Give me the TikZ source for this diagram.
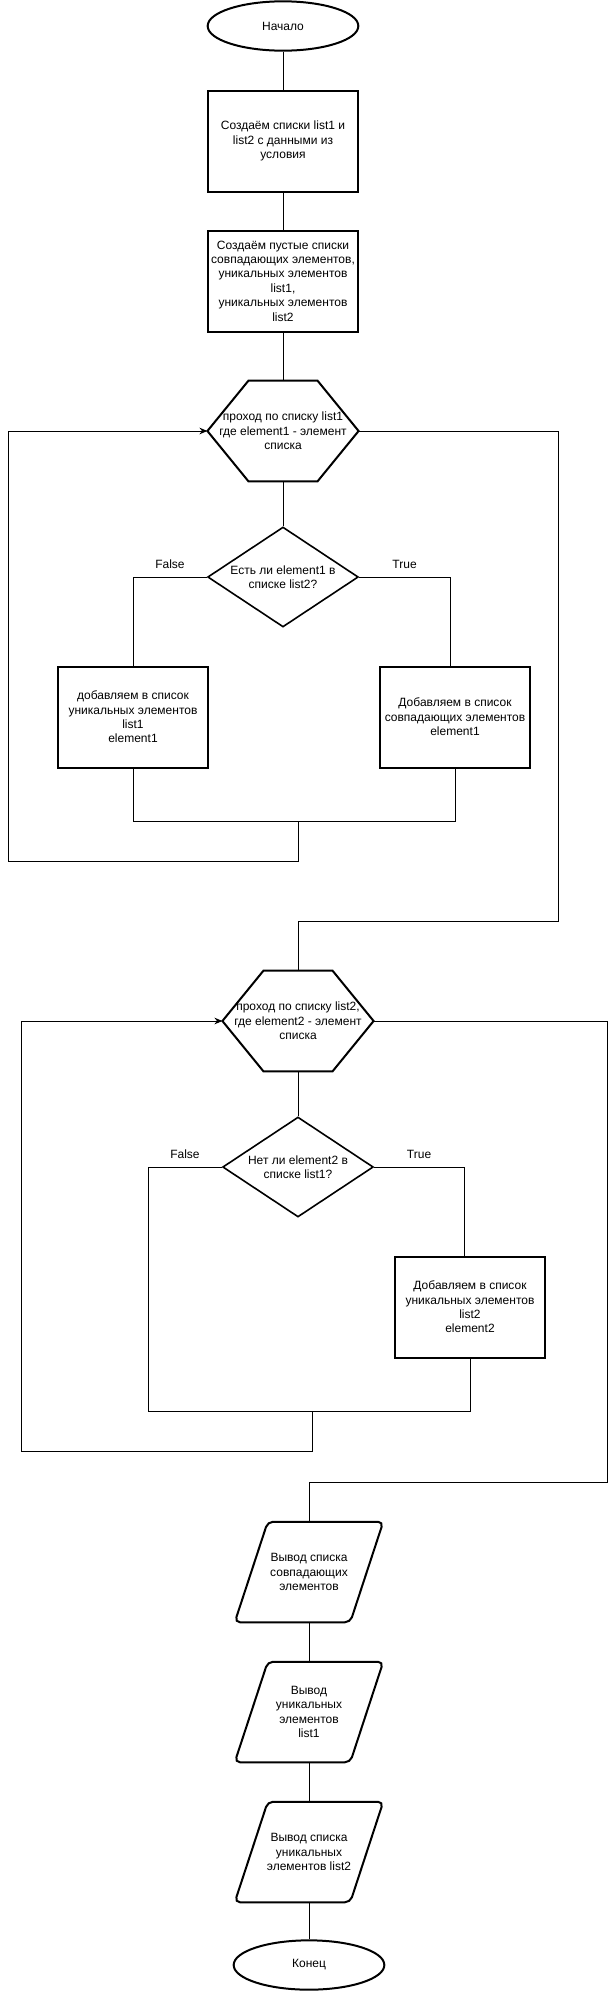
\documentclass[tikz,border=0pt]{standalone}
\usepackage{fontspec}
\setmainfont{Liberation Sans}
\usetikzlibrary{shapes.geometric,arrows.meta}

\tikzset{
  base/.style={font=\fontsize{9pt}{10.8pt}\selectfont, align=center},
  term/.style={base, ellipse, draw, line width=1.5pt, minimum width=113pt, minimum height=37pt},
  proc/.style={base, rectangle, draw, line width=1.5pt, minimum width=113pt, minimum height=75.75pt, inner sep=1pt},
  cond/.style={base, diamond, draw, line width=1.2pt, minimum width=113pt, minimum height=75pt, aspect=1.5, inner sep=0pt},
  hexa/.style={base, rectangle, minimum width=113pt, minimum height=75pt, inner sep=0pt},
  io/.style={base, rectangle, minimum width=111pt, minimum height=75pt, inner sep=0pt},
  outline/.style={line width=1.5pt},
  link/.style={line width=0.75pt},
  loopback/.style={link, -{Stealth[length=6pt,width=5pt]}},
  tag/.style={base, above=5pt, inner sep=1pt}
}

\begin{document}
\begin{tikzpicture}[x=0.75pt,y=-0.75pt]
\useasboundingbox (0,0) rectangle (609,1992);

\node[term] (start) at (283,26) {Начало};
\node[proc] (init1) at (283,141) {Создаём списки list1 и\\list2 с данными из\\условия};
\node[proc] (init2) at (283,281) {Создаём пустые списки\\совпадающих элементов,\\уникальных элементов\\list1,\\уникальных элементов\\list2};
\node[hexa] (loop1) at (283,431) {проход по списку list1\\где element1 - элемент\\списка};
\node[cond] (check1) at (283,577) {Есть ли element1 в\\списке list2?};
\node[proc] (uniq1) at (133,717) {добавляем в список\\уникальных элементов\\list1\\element1};
\node[proc] (common1) at (455,717) {Добавляем в список\\совпадающих элементов\\element1};

\node[hexa] (loop2) at (298,1021) {проход по списку list2,\\где element2 - элемент\\списка};
\node[cond] (check2) at (298,1167) {Нет ли element2 в\\списке list1?};
\node[proc] (uniq2) at (470,1307) {Добавляем в список\\уникальных элементов\\list2\\element2};

\node[io] (outCommon) at (309,1572) {Вывод списка\\совпадающих\\элементов};
\node[io] (outUniq1) at (309,1712) {Вывод\\уникальных\\элементов\\list1};
\node[io] (outUniq2) at (309,1852) {Вывод списка\\уникальных\\элементов list2};
\node[term] (finish) at (309,1965) {Конец};

% hexagons and parallelograms
\draw[outline] (loop1.west) -- ([xshift=30.75pt]loop1.north west) -- ([xshift=-30.75pt]loop1.north east) -- (loop1.east) -- ([xshift=-30.75pt]loop1.south east) -- ([xshift=30.75pt]loop1.south west) -- cycle;
\draw[outline] (loop2.west) -- ([xshift=30.75pt]loop2.north west) -- ([xshift=-30.75pt]loop2.north east) -- (loop2.east) -- ([xshift=-30.75pt]loop2.south east) -- ([xshift=30.75pt]loop2.south west) -- cycle;
\draw[outline, rounded corners=4pt] ([xshift=24.75pt]outCommon.north west) -- (outCommon.north east) -- ([xshift=-24.75pt]outCommon.south east) -- (outCommon.south west) -- cycle;
\draw[outline, rounded corners=4pt] ([xshift=24.75pt]outUniq1.north west) -- (outUniq1.north east) -- ([xshift=-24.75pt]outUniq1.south east) -- (outUniq1.south west) -- cycle;
\draw[outline, rounded corners=4pt] ([xshift=24.75pt]outUniq2.north west) -- (outUniq2.north east) -- ([xshift=-24.75pt]outUniq2.south east) -- (outUniq2.south west) -- cycle;

% first loop
\draw[link] (start) -- (init1);
\draw[link] (init1) -- (init2);
\draw[link] (init2) -- (loop1.north);
\draw[link] (loop1.south) -- (check1);
\draw[link] (check1.west) -| node[tag, pos=0.25]{False} (uniq1.north);
\draw[link] (check1.east) -| node[tag, pos=0.25]{True} ([xshift=-3.75pt]common1.north);
\coordinate (join1) at (298,821);
\draw[link] (uniq1.south) |- (join1) -| (common1.south);
\coordinate (back1) at (8,861);
\draw[loopback] (join1) |- (back1) |- (loop1.west);
\coordinate (exit1) at (558,921);
\draw[link] (loop1.east) -| (exit1) -| (loop2.north);

% second loop
\draw[link] (loop2.south) -- (check2);
\coordinate (left2) at (148,1411);
\draw[link] (check2.west) -| node[tag, pos=0.25]{False} (left2) -| (uniq2.south);
\draw[link] (check2.east) -| node[tag, pos=0.25]{True} ([xshift=-4.5pt]uniq2.north);
\coordinate (join2) at (312,1411);
\coordinate (back2) at (21,1451);
\draw[loopback] (join2) |- (back2) |- (loop2.west);
\coordinate (exit2) at (607,1482);
\draw[link] (loop2.east) -| (exit2) -| (outCommon.north);

% output
\draw[link] (outCommon) -- (outUniq1);
\draw[link] (outUniq1) -- (outUniq2);
\draw[link] (outUniq2) -- (finish);
\end{tikzpicture}
\end{document}
